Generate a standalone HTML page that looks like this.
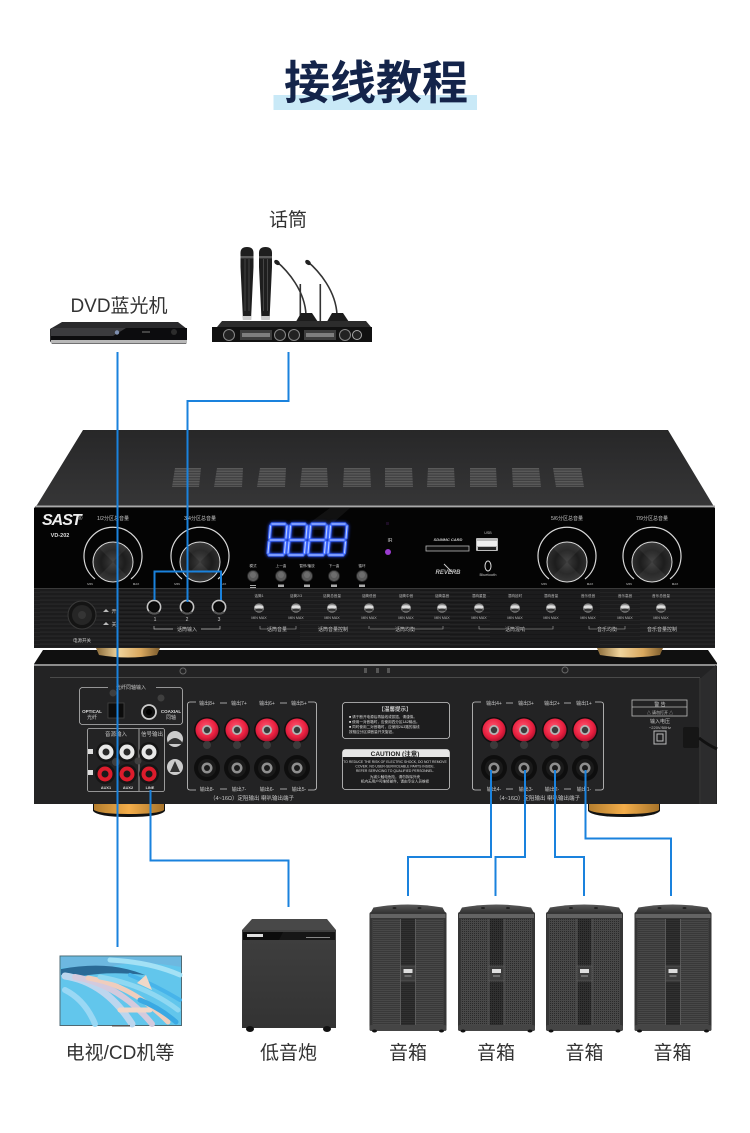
<!DOCTYPE html>
<html><head><meta charset="utf-8"><title>接线教程</title>
<style>
html,body{margin:0;padding:0;background:#fff}
svg{display:block}
text{font-family:"Liberation Sans","Noto Sans CJK SC",sans-serif}
.l{font-size:19px;fill:#333;text-anchor:middle}
.t{font-size:5px;fill:#c8c8c8;text-anchor:middle}
.b{font-size:6px;fill:#ddd;text-anchor:middle;font-weight:bold}
.w{font-size:3.6px;fill:#ddd}
</style></head><body>
<svg width="750" height="1133" viewBox="0 0 750 1133" xmlns="http://www.w3.org/2000/svg">
<defs>
<linearGradient id="deck" x1="0" y1="0" x2="0" y2="1"><stop offset="0" stop-color="#272728"/><stop offset="1" stop-color="#363637"/></linearGradient>
<linearGradient id="gold" x1="0" y1="0" x2="1" y2="0"><stop offset="0" stop-color="#8a6a38"/><stop offset=".35" stop-color="#f0d49c"/><stop offset=".7" stop-color="#d9a85e"/><stop offset="1" stop-color="#7a5a2c"/></linearGradient>
<linearGradient id="goldb" x1="0" y1="0" x2="1" y2="0"><stop offset="0" stop-color="#b57e2e"/><stop offset=".5" stop-color="#f3ad4a"/><stop offset="1" stop-color="#a8742a"/></linearGradient>
<pattern id="brush" width="300" height="4" patternUnits="userSpaceOnUse"><rect width="300" height="4" fill="#1c1c1d"/><rect y="0" width="190" height="1" fill="#242425"/><rect x="120" y="2" width="180" height="1" fill="#171718"/><rect x="40" y="3" width="110" height="1" fill="#222223"/></pattern>
<pattern id="grille" width="2" height="2" patternUnits="userSpaceOnUse"><rect width="2" height="2" fill="#484848"/><rect width="1" height="1" fill="#2a2a2a"/></pattern>
<pattern id="grille2" width="2" height="2" patternUnits="userSpaceOnUse"><rect width="2" height="2" fill="#303030"/><rect width="1" height="1" fill="#1c1c1c"/></pattern>
<pattern id="vl" width="4" height="2.6" patternUnits="userSpaceOnUse"><rect width="4" height="1.3" fill="#5a5a5a"/><rect y="1.3" width="4" height="1.3" fill="#404041"/></pattern>
<radialGradient id="cone" cx=".5" cy=".5" r=".5"><stop offset="0" stop-color="#3a3a3a"/><stop offset=".6" stop-color="#1d1d1d"/><stop offset="1" stop-color="#2e2e2e"/></radialGradient>
<radialGradient id="redg" cx=".45" cy=".4" r=".6"><stop offset="0" stop-color="#ff5b74"/><stop offset=".7" stop-color="#e9203f"/><stop offset="1" stop-color="#b01230"/></radialGradient>
<linearGradient id="sub" x1="0" y1="0" x2="0" y2="1"><stop offset="0" stop-color="#3f3f3f"/><stop offset="1" stop-color="#333"/></linearGradient>
<linearGradient id="spkTop" x1="0" y1="0" x2="0" y2="1"><stop offset="0" stop-color="#5a5a5a"/><stop offset="1" stop-color="#333"/></linearGradient>

<g id="knob">
<path d="M-18 24A29 29 0 1 1 18 24" fill="none" stroke="#d8d8d8" stroke-width="1.2"/>
<circle cy="7" r="20" fill="url(#cone)" stroke="#d8d8d8" stroke-width="1"/>
<path d="M0 7L-14 -7A20 20 0 0 1 14 -7ZM0 7L-14 21A20 20 0 0 0 14 21Z" fill="#fff" opacity=".06"/>
<text x="-23" y="30" class="t" style="font-size:3px">MIN</text><text x="23" y="30" class="t" style="font-size:3px">MAX</text>
</g>
<g id="jack"><circle r="7.2" fill="#050505"/><circle r="6.6" fill="none" stroke="#c4c4c4" stroke-width="1.6"/><circle r="4.5" fill="#0b0b0b"/><path d="M-5 4A7 7 0 0 0 5 5" stroke="#555" stroke-width="2" fill="none"/></g>
<g id="sk"><ellipse rx="5" ry="4.6" fill="#8a8a8a"/><ellipse cy="-1" rx="4.5" ry="1.8" fill="#ddd"/><ellipse cy="2" rx="4" ry="1.5" fill="#333"/></g>
<g id="btn"><circle r="5.5" fill="#5a5a5a"/><circle r="5.5" fill="none" stroke="#2a2a2a" stroke-width=".8"/><circle cy="-1" r="3" fill="#6d6d6d"/></g>
<g id="red"><circle r="13" fill="#101010"/><circle r="11.5" fill="url(#redg)"/><circle r="5" fill="#b5b5b5"/><circle r="3.2" fill="#3a3a3a"/><circle cy="15" r="4" fill="#3a3a3a"/></g>
<g id="blk"><circle r="13" fill="#0e0e0e"/><circle r="9" fill="#1a1a1a"/><circle r="5.5" fill="#8f8f8f"/><circle r="3" fill="#1b1b1b"/></g>
<g id="rw"><circle r="10" fill="#151515"/><circle r="7.5" fill="#e8e8e8"/><circle r="3.5" fill="#2a2a2a"/></g>
<g id="rr"><circle r="10" fill="#151515"/><circle r="7.5" fill="#dd1c2c"/><circle r="3.5" fill="#1a1a1a"/></g>
<g id="spk">
<path d="M1 10L4 4.5Q38 -1.5 73 4.5L76 10Z" fill="url(#spkTop)"/>
<rect x="0" y="9" width="77" height="119" rx="2" fill="#353535"/>
<rect x="1" y="11" width="75" height="4" fill="#636363"/>
<rect x="3" y="16" width="71" height="107" fill="url(#grille)"/>
<rect x="31" y="16" width="15" height="107" fill="url(#grille2)"/>
<rect x="30.5" y="16" width="1" height="107" fill="#5a5a5a"/><rect x="45.5" y="16" width="1" height="107" fill="#5a5a5a"/>
<rect x="31" y="63" width="15" height="15" fill="#3c3c3c" stroke="#6d6d6d" stroke-width=".5"/>
<rect x="34" y="66" width="9" height="4" fill="#ddd"/>
<rect x="35" y="72.5" width="7" height="1" fill="#999"/>
<rect x="0" y="122" width="77" height="6" rx="2" fill="#454545"/>
<ellipse cx="5" cy="128" rx="2.5" ry="1.5" fill="#111"/><ellipse cx="72" cy="128" rx="2.5" ry="1.5" fill="#111"/>
<ellipse cx="25" cy="5" rx="2" ry="1" fill="#222"/><ellipse cx="50" cy="5" rx="2" ry="1" fill="#222"/>
</g>
<g id="gmic">
<path d="M0 0C12 10 29 30 30 54" fill="none" stroke="#333" stroke-width="1.6"/>
<ellipse cx="1" cy="1.5" rx="3.2" ry="2.2" fill="#222" transform="rotate(40 1 1.5)"/>
<path d="M18 64L25 52H36L44 64Z" fill="#1c1c1c"/>
</g>
<g id="mic"><path d="M0.5 7Q0 0 7 0Q14 0 13.5 7V20L11 73H3L0.5 20Z" fill="#1e1e1e"/><rect x="0.5" y="9" width="13" height="2.4" fill="#5c5c5c"/><rect x="4.5" y="12" width="1" height="52" fill="#444"/><rect x="8.5" y="12" width="1" height="52" fill="#444"/><rect x="2.8" y="69" width="8.5" height="4" fill="#ccc"/></g>
</defs>

<rect width="750" height="1133" fill="#fff"/>

<!-- title -->
<rect x="273.5" y="95" width="203.5" height="15" fill="#c9e9f7"/>
<text x="376" y="99" text-anchor="middle" style="font-size:46px;font-weight:bold;fill:#14244a">接线教程</text>

<!-- top labels -->
<text x="288" y="226" class="l">话筒</text>
<text x="119" y="312" class="l">DVD蓝光机</text>

<!-- DVD -->
<path d="M50 329L62 322H178L187 329V341L186 344H52L50 341Z" fill="#2a2a2c"/>
<rect x="51" y="328" width="136" height="12" fill="#0c0c0e"/>
<path d="M51 328H126L113 336H51Z" fill="#3b3b3e"/>
<rect x="51" y="340" width="136" height="3.5" fill="#b8b8b8"/>
<circle cx="117" cy="332.5" r="2.2" fill="#7f8fb0"/>
<rect x="142" y="331" width="8" height="2" fill="#444"/><circle cx="174" cy="332" r="3" fill="#2c2c2c"/>

<!-- Mics -->
<use href="#mic" x="240" y="247"/><use href="#mic" x="258.5" y="247"/>
<rect x="299.5" y="284" width="1.6" height="40" fill="#333"/><rect x="319.5" y="284" width="1.6" height="40" fill="#333"/>
<use href="#gmic" x="276" y="261"/><use href="#gmic" x="307" y="261"/>
<path d="M217 327L222 321H366L371 327Z" fill="#2c2c2c"/>
<rect x="212" y="327" width="160" height="15" fill="#111"/>
<circle cx="229" cy="335" r="5.5" fill="#222" stroke="#888"/>
<rect x="240" y="330" width="32" height="10" fill="#3d3d3d"/><rect x="242" y="333" width="28" height="4" fill="#aaa" opacity=".6"/>
<circle cx="280" cy="335" r="5.5" fill="#222" stroke="#888"/><circle cx="294" cy="335" r="5.5" fill="#222" stroke="#888"/>
<rect x="304" y="330" width="32" height="10" fill="#3d3d3d"/><rect x="306" y="333" width="28" height="4" fill="#aaa" opacity=".6"/>
<circle cx="345" cy="335" r="5.5" fill="#222" stroke="#888"/><circle cx="357" cy="335" r="4.5" fill="#222" stroke="#aaa"/>

<!-- Front amp: deck -->
<polygon points="83,430 668,430 713,505 715,508 34,508 37,505" fill="url(#deck)"/>
<g>
<polygon points="175,468 201,468 199,487 172,487" fill="url(#vl)"/>
<polygon points="217,468 243,468 242,487 214,487" fill="url(#vl)"/>
<polygon points="260,468 286,468 285,487 257,487" fill="url(#vl)"/>
<polygon points="302,468 327,468 328,487 300,487" fill="url(#vl)"/>
<polygon points="344,468 370,468 371,487 343,487" fill="url(#vl)"/>
<polygon points="385,468 412,468 413,487 385,487" fill="url(#vl)"/>
<polygon points="428,468 454,468 455,487 427,487" fill="url(#vl)"/>
<polygon points="470,468 496,468 497,487 470,487" fill="url(#vl)"/>
<polygon points="512,468 539,468 541,487 513,487" fill="url(#vl)"/>
<polygon points="553,468 581,468 584,487 556,487" fill="url(#vl)"/>
</g>
<rect x="36" y="505.5" width="679" height="1.6" fill="#a9a9a9"/>

<!-- rear amp -->
<polygon points="43,650 708,650 717,663 717,804 34,804 34,664" fill="#101010"/>
<rect x="34" y="666" width="683" height="138" fill="#232324"/>
<rect x="34" y="664" width="683" height="2" fill="#8c8c8c"/>
<rect x="50" y="677" width="650" height="1" fill="#4a4a4a"/>
<path d="M700 678V804" stroke="#3d3d3d"/>
<polygon points="701,678 716,665 716,804 701,804" fill="#2c2c2d"/>
<circle cx="183" cy="671" r="3" fill="none" stroke="#666"/><circle cx="565" cy="670" r="3" fill="none" stroke="#666"/>
<rect x="364" y="668" width="3" height="5" fill="#555"/><rect x="376" y="668" width="3" height="5" fill="#555"/><rect x="387" y="668" width="3" height="5" fill="#555"/>

<!-- rear feet -->
<path d="M93 804H165V811Q160 817 129 817Q98 817 93 811Z" fill="#111"/>
<path d="M94 804H164V810Q158 814 129 814Q100 814 94 810Z" fill="url(#goldb)"/>
<path d="M588 804H660V811Q655 817 624 817Q593 817 588 811Z" fill="#111"/>
<path d="M589 804H659V810Q653 814 624 814Q595 814 589 810Z" fill="url(#goldb)"/>

<!-- front feet -->
<path d="M96 648H160L157 655Q128 660 99 655Z" fill="url(#gold)"/>
<path d="M597 648H663L660 655Q630 660 600 655Z" fill="url(#gold)"/>

<!-- front panel -->
<rect x="34" y="508" width="681" height="80" fill="#040404"/>
<polygon points="330,508 350,508 325,530 300,530" fill="#1a1a1a" opacity=".6"/>
<rect x="34" y="588" width="681" height="60" fill="url(#brush)"/>
<rect x="34" y="588" width="681" height="1" fill="#3a3a3a"/>

<text x="42" y="525" style="font-size:16px;font-style:italic;font-weight:bold;fill:#eee;letter-spacing:-1px">SAST</text>
<text x="78" y="520" style="font-size:6px;fill:#ccc">®</text>
<text x="60" y="537" class="b" style="font-size:5.5px">VD-202</text>

<text x="113" y="520" class="t">1/2分区总音量</text>
<text x="200" y="520" class="t">3/4分区总音量</text>
<text x="567" y="520" class="t">5/6分区总音量</text>
<text x="652" y="520" class="t">7/9分区总音量</text>
<use href="#knob" x="113" y="555"/><use href="#knob" x="200" y="555"/><use href="#knob" x="567" y="555"/><use href="#knob" x="652" y="555"/>

<!-- 7-seg display -->
<g fill="none" stroke="#3f6cff" stroke-width="3.2" stroke-linecap="round" style="filter:drop-shadow(0 0 1.5px #2a4fff)">
<path d="M272 524H285M270.5 526L269.5 538M287 526L286 538M270 540H284M269 542L268 553M285.5 542L284.5 553M269 555H283"/>
<path d="M292 524H305M290.5 526L289.5 538M307 526L306 538M290 540H304M289 542L288 553M305.5 542L304.5 553M289 555H303"/>
<path d="M312 524H325M310.5 526L309.5 538M327 526L326 538M310 540H324M309 542L308 553M325.5 542L324.5 553M309 555H323"/>
<path d="M332 524H345M330.5 526L329.5 538M347 526L346 538M330 540H344M329 542L328 553M345.5 542L344.5 553M329 555H343"/>
</g>
<g fill="none" stroke="#b9ccff" stroke-width="1.1" stroke-linecap="round">
<path d="M272 524H285M270.5 526L269.5 538M287 526L286 538M270 540H284M269 542L268 553M285.5 542L284.5 553M269 555H283"/>
<path d="M292 524H305M290.5 526L289.5 538M307 526L306 538M290 540H304M289 542L288 553M305.5 542L304.5 553M289 555H303"/>
<path d="M312 524H325M310.5 526L309.5 538M327 526L326 538M310 540H324M309 542L308 553M325.5 542L324.5 553M309 555H323"/>
<path d="M332 524H345M330.5 526L329.5 538M347 526L346 538M330 540H344M329 542L328 553M345.5 542L344.5 553M329 555H343"/>
</g>
<circle cx="388" cy="552" r="3" fill="#9b3cd0"/>
<text x="390" y="542" class="t">IR</text>
<rect x="386" y="522" width="3" height="3" fill="#1c0d24"/>

<!-- buttons -->
<text x="253" y="567" class="t" style="font-size:3.6px">模式</text><text x="281" y="567" class="t" style="font-size:3.6px">上一曲</text><text x="307" y="567" class="t" style="font-size:3.6px">暂停/播放</text><text x="334" y="567" class="t" style="font-size:3.6px">下一曲</text><text x="362" y="567" class="t" style="font-size:3.6px">循环</text>
<use href="#btn" x="253" y="576"/><use href="#btn" x="281" y="576"/><use href="#btn" x="307" y="576"/><use href="#btn" x="334" y="576"/><use href="#btn" x="362" y="576"/>
<g fill="#aaa"><rect x="250" y="585" width="6" height="1"/><rect x="250" y="587" width="6" height="1"/><rect x="278" y="584.5" width="6" height="2.5"/><rect x="304" y="584.5" width="6" height="2.5"/><rect x="331" y="584.5" width="6" height="2.5"/><rect x="359" y="584.5" width="6" height="2.5"/></g>

<!-- sd/usb -->
<text x="448" y="541" style="font-size:4px;fill:#ccc;font-style:italic;font-weight:bold;text-anchor:middle">SD/MMC CARD</text>
<rect x="426" y="546" width="43" height="5" fill="#111" stroke="#bbb" stroke-width=".8"/>
<rect x="476" y="538" width="22" height="13" rx="1" fill="#bbb"/><rect x="477" y="541" width="20" height="5" fill="#eee"/><rect x="478" y="547" width="18" height="3" fill="#222"/>
<text x="488" y="534" class="t" style="font-size:3.6px">USB</text>
<text x="448" y="574" style="font-size:6px;fill:#bbb;font-style:italic;font-weight:bold;text-anchor:middle">REVERB</text>
<path d="M444 564L452 572" stroke="#ccc"/>
<ellipse cx="488" cy="566" rx="3" ry="5" fill="none" stroke="#ddd"/>
<text x="488" y="576" class="t" style="font-size:4px">Bluetooth</text>

<!-- front jacks & power -->
<use href="#jack" x="154" y="607"/><use href="#jack" x="187" y="607"/><use href="#jack" x="219" y="607"/>
<text x="155" y="621" class="t">1</text><text x="187" y="621" class="t">2</text><text x="219" y="621" class="t">3</text>
<path d="M154 626V629H173M201 629H220V626" fill="none" stroke="#bbb" stroke-width=".7"/>
<text x="187" y="631" class="t">话筒输入</text>
<circle cx="82" cy="615" r="14" fill="#141414" stroke="#3a3a3a"/><circle cx="82" cy="615" r="10" fill="#262626"/><circle cx="82" cy="615" r="4" fill="#353535"/>
<path d="M103 612L106 609L109 612ZM103 625L106 622L109 625Z" fill="#bbb"/>
<text x="114" y="613" class="t">开</text><text x="114" y="626" class="t">关</text>
<text x="82" y="642" class="t" style="font-size:4.5px">电源开关</text>

<!-- small knobs -->
<g>
<use href="#sk" x="259" y="608"/><use href="#sk" x="296" y="608"/><use href="#sk" x="332" y="608"/><use href="#sk" x="369" y="608"/><use href="#sk" x="406" y="608"/><use href="#sk" x="442" y="608"/><use href="#sk" x="479" y="608"/><use href="#sk" x="515" y="608"/><use href="#sk" x="551" y="608"/><use href="#sk" x="588" y="608"/><use href="#sk" x="625" y="608"/><use href="#sk" x="661" y="608"/>
</g>
<g style="font-size:3.6px;fill:#bbb;text-anchor:middle">
<text x="259" y="597">话筒1</text><text x="296" y="597">话筒2/3</text><text x="332" y="597">话筒总音量</text><text x="369" y="597">话筒低音</text><text x="406" y="597">话筒中音</text><text x="442" y="597">话筒高音</text><text x="479" y="597">混响重复</text><text x="515" y="597">混响延时</text><text x="551" y="597">混响音量</text><text x="588" y="597">音乐低音</text><text x="625" y="597">音乐高音</text><text x="661" y="597">音乐总音量</text>
<text x="259" y="619">MIN  MAX</text><text x="296" y="619">MIN  MAX</text><text x="332" y="619">MIN  MAX</text><text x="369" y="619">MIN  MAX</text><text x="406" y="619">MIN  MAX</text><text x="442" y="619">MIN  MAX</text><text x="479" y="619">MIN  MAX</text><text x="515" y="619">MIN  MAX</text><text x="551" y="619">MIN  MAX</text><text x="588" y="619">MIN  MAX</text><text x="625" y="619">MIN  MAX</text><text x="661" y="619">MIN  MAX</text>
</g>
<g fill="none" stroke="#aaa" stroke-width=".6">
<path d="M260 626V629H268M287 629H296V626"/>
<path d="M370 629H395M415 629H443V626M369 626V629"/>
<path d="M479 626V629H505M525 629H553V626"/>
<path d="M589 626V629H597M617 629H625V626"/>
</g>
<text x="277" y="631" class="t">话筒音量</text><text x="333" y="631" class="t">话筒音量控制</text><text x="405" y="631" class="t">话筒均衡</text><text x="515" y="631" class="t">话筒混响</text><text x="607" y="631" class="t">音乐均衡</text><text x="662" y="631" class="t">音乐音量控制</text>

<!-- rear: optical box -->
<rect x="79.5" y="687.5" width="103" height="37" rx="3" fill="none" stroke="#bbb" stroke-width=".8"/>
<rect x="108" y="684" width="48" height="6" fill="#232324"/>
<text x="131" y="689" class="t" style="font-size:5px">光纤同轴输入</text>
<text x="92" y="713" class="b" style="font-size:4.5px">OPTICAL</text><text x="92" y="719" class="t">光纤</text>
<text x="171" y="713" class="b" style="font-size:4.5px">COAXIAL</text><text x="171" y="719" class="t">同轴</text>
<rect x="108" y="703" width="16" height="15" fill="#0c0c0c" stroke="#444" stroke-width=".8"/>
<circle cx="149" cy="712" r="7" fill="#111" stroke="#ccc" stroke-width="1.8"/><circle cx="149" cy="712" r="3" fill="#000"/>
<circle cx="113" cy="693" r="3.5" fill="#3f3f3f"/><circle cx="161" cy="698" r="3.5" fill="#3f3f3f"/>

<!-- audio box -->
<rect x="87.5" y="728.5" width="77" height="63" rx="2" fill="none" stroke="#bbb" stroke-width=".8"/>
<path d="M139 729V791" stroke="#bbb" stroke-width=".8"/>
<text x="116" y="736" class="t" style="font-size:5.5px">音源输入</text><text x="152" y="736" class="t" style="font-size:5.5px">信号输出</text>
<use href="#rw" x="106" y="752"/><use href="#rw" x="127" y="752"/><use href="#rw" x="149" y="752"/>
<use href="#rr" x="105" y="774"/><use href="#rr" x="127" y="774"/><use href="#rr" x="149" y="774"/>
<circle cx="116" cy="762" r="4" fill="#3f3f3f"/><circle cx="138" cy="761" r="3.5" fill="#3f3f3f"/>
<rect x="88" y="749" width="5" height="5" fill="#ddd"/><rect x="88" y="770" width="5" height="5" fill="#ddd"/>
<text x="106" y="789" class="b" style="font-size:3.8px">AUX1</text><text x="128" y="789" class="b" style="font-size:3.8px">AUX2</text><text x="150" y="789" class="b" style="font-size:3.8px">LINE</text>
<circle cx="175" cy="739" r="8" fill="#ccc"/><path d="M168 742Q175 734 182 742V744H168Z" fill="#333"/>
<circle cx="175" cy="767" r="8" fill="#ccc"/><path d="M175 761L180 772H170Z" fill="#333"/>

<!-- left speaker terminals -->
<path d="M196 702H190Q187.5 702 187.5 705V787Q187.5 790 190 790H196M308 702H314Q316.5 702 316.5 705V787Q316.5 790 314 790H308" fill="none" stroke="#ccc" stroke-width=".8"/>
<path d="M220 703H227M280 703H287M220 789H227M280 789H287" stroke="#ccc" stroke-width=".8"/>
<text x="207" y="705" class="t">输出8+</text><text x="239" y="705" class="t">输出7+</text><text x="267" y="705" class="t">输出6+</text><text x="299" y="705" class="t">输出5+</text>
<text x="207" y="791" class="t">输出8-</text><text x="239" y="791" class="t">输出7-</text><text x="267" y="791" class="t">输出6-</text><text x="299" y="791" class="t">输出5-</text>
<text x="252" y="800" class="t" style="font-size:5.5px">（4~16Ω）定阻输出  喇叭输出端子</text>
<use href="#red" x="207" y="730"/><use href="#red" x="237" y="730"/><use href="#red" x="267" y="730"/><use href="#red" x="297" y="730"/>
<use href="#blk" x="207" y="768"/><use href="#blk" x="237" y="768"/><use href="#blk" x="267" y="768"/><use href="#blk" x="297" y="768"/>

<!-- right speaker terminals -->
<path d="M481 702H475Q472.5 702 472.5 705V787Q472.5 790 475 790H481M595 702H601Q603.5 702 603.5 705V787Q603.5 790 601 790H595" fill="none" stroke="#ccc" stroke-width=".8"/>
<path d="M506 703H513M564 703H571M506 789H513M564 789H571" stroke="#ccc" stroke-width=".8"/>
<text x="494" y="705" class="t">输出4+</text><text x="526" y="705" class="t">输出3+</text><text x="552" y="705" class="t">输出2+</text><text x="584" y="705" class="t">输出1+</text>
<text x="494" y="791" class="t">输出4-</text><text x="526" y="791" class="t">输出3-</text><text x="552" y="791" class="t">输出2-</text><text x="584" y="791" class="t">输出1-</text>
<text x="538" y="800" class="t" style="font-size:5.5px">（4~16Ω）定阻输出  喇叭输出端子</text>
<use href="#red" x="494" y="730"/><use href="#red" x="524" y="730"/><use href="#red" x="555" y="730"/><use href="#red" x="585" y="730"/>
<use href="#blk" x="494" y="768"/><use href="#blk" x="524" y="768"/><use href="#blk" x="555" y="768"/><use href="#blk" x="585" y="768"/>

<!-- warning boxes -->
<rect x="342.5" y="702.5" width="107" height="36" rx="3" fill="#1d1d1e" stroke="#ccc" stroke-width=".8"/>
<text x="395" y="711" class="t" style="font-size:5.5px;font-weight:bold">【温馨提示】</text>
<text x="349" y="718" class="w">■ 请于断开电源后再接线或拔插，请谨慎。</text>
<text x="349" y="723" class="w">■ 使用一对音箱时，应使用四分区1&amp;2输出。</text>
<text x="349" y="728" class="w">■ 同时使用二对音箱时，应使用2&amp;3路的接线</text>
<text x="349" y="733" class="w">  按相应分区调音量开关旋钮。</text>
<rect x="342.5" y="749.5" width="107" height="40" rx="3" fill="#1d1d1e" stroke="#ccc" stroke-width=".8"/>
<path d="M342.5 757V752.5Q342.5 749.5 345.5 749.5H446.5Q449.5 749.5 449.5 752.5V757Z" fill="#e6e6e6"/>
<text x="395" y="756" style="font-size:6.5px;font-weight:bold;fill:#222;text-anchor:middle">CAUTION (注意)</text>
<text x="395" y="763" class="w" style="text-anchor:middle;font-size:3.4px">TO REDUCE THE RISK OF ELECTRIC SHOCK, DO NOT REMOVE</text>
<text x="395" y="767.5" class="w" style="text-anchor:middle;font-size:3.4px">COVER. NO USER-SERVICEABLE PARTS INSIDE.</text>
<text x="395" y="772" class="w" style="text-anchor:middle;font-size:3.4px">REFER SERVICING TO QUALIFIED PERSONNEL.</text>
<text x="395" y="778" class="w" style="text-anchor:middle">为减少触电危险，请勿拆除外壳</text>
<text x="395" y="782.5" class="w" style="text-anchor:middle">机内无用户可维修部件，请由专业人员维修</text>

<!-- power section -->
<rect x="632" y="700" width="55" height="16" fill="none" stroke="#bbb" stroke-width=".8"/>
<path d="M632 707H687" stroke="#bbb" stroke-width=".8"/>
<text x="660" y="706" class="t">警 告</text>
<text x="660" y="714" class="t" style="font-size:4px">△ 请勿打开 △</text>
<text x="660" y="723" class="t">输入电压</text>
<text x="660" y="729" class="t" style="font-size:4px">~220V/50Hz</text>
<rect x="654" y="731" width="12" height="13" fill="none" stroke="#bbb"/><rect x="657" y="734" width="6" height="7" fill="none" stroke="#bbb"/>
<rect x="683" y="727" width="16" height="21" rx="2" fill="#161616"/>
<path d="M699 738Q708 745 717 749" stroke="#111" stroke-width="3" fill="none"/>

<!-- sub -->
<polygon points="252,919 327,919 336,930 242,930" fill="#484848"/>
<rect x="242" y="930" width="94" height="98" fill="url(#sub)"/>
<rect x="243" y="932" width="92" height="8" fill="#0c0c0c"/>
<polygon points="283,932 335,932 335,940 279,940" fill="#161616"/>
<rect x="247" y="934" width="16" height="3" fill="#ddd"/>
<rect x="306" y="937" width="24" height="1" fill="#888"/>
<ellipse cx="250" cy="1029" rx="4" ry="3" fill="#111"/><ellipse cx="327" cy="1029" rx="4" ry="3" fill="#111"/>

<!-- speakers -->
<use href="#spk" x="369.5" y="903"/><use href="#spk" x="458" y="903"/><use href="#spk" x="546" y="903"/><use href="#spk" x="634.5" y="903"/>

<!-- TV -->
<rect x="60" y="956" width="121.5" height="69.5" fill="#62c6ec" stroke="#4f6a74" stroke-width="1"/>
<path d="M61 957H181V967Q130 958 100 970Q80 966 61 968Z" fill="#6db8e0"/>
<path d="M61 969Q110 960 145 975Q110 971 82 976Q70 973 61 975Z" fill="#2a6a96"/>
<g fill="none" stroke-linecap="round">
<path d="M65 976Q105 982 132 1024" stroke="#bcd6ee" stroke-width="7"/>
<path d="M75 977Q120 985 152 1024" stroke="#d4cadd" stroke-width="6"/>
<path d="M88 978Q132 985 168 1022" stroke="#f0cdbc" stroke-width="5"/>
<path d="M100 977Q145 985 178 1010" stroke="#8fd8f2" stroke-width="5"/>
<path d="M65 990Q85 1000 95 1024" stroke="#9ad8f4" stroke-width="6"/>
<path d="M120 1010H150" stroke="#f0d6c8" stroke-width="5"/>
<path d="M110 960Q150 962 180 975" stroke="#a3e1f5" stroke-width="5"/>
<path d="M130 975Q155 985 180 1000" stroke="#47b4ea" stroke-width="4"/>
<path d="M140 1000Q160 1008 176 1022" stroke="#3aa9e3" stroke-width="5"/>
</g>
<path d="M137 983L146 975L152 990Z" fill="#f0d8c8"/>
<rect x="112" y="1025" width="18" height="1.5" fill="#555"/>

<!-- bottom labels -->
<text x="120" y="1059" class="l">电视/CD机等</text>
<text x="288.5" y="1059" class="l">低音炮</text>
<text x="408" y="1059" class="l">音箱</text>
<text x="496" y="1059" class="l">音箱</text>
<text x="584.5" y="1059" class="l">音箱</text>
<text x="672.5" y="1059" class="l">音箱</text>

<!-- wires -->
<g fill="none" stroke="#1a82dd" stroke-width="2">
<path d="M117.5 352V947"/>
<path d="M288.5 352V401H187.5V602"/>
<path d="M154.5 600V571.5H221V600"/>
<path d="M150.5 790V860.5H288.5V907"/>
<path d="M491 770V857H408V896"/>
<path d="M525 770V857H495.5V896"/>
<path d="M555 770V857H584V896"/>
<path d="M585.5 770V838.5H671V896"/>
</g>
</svg>
</body></html>
